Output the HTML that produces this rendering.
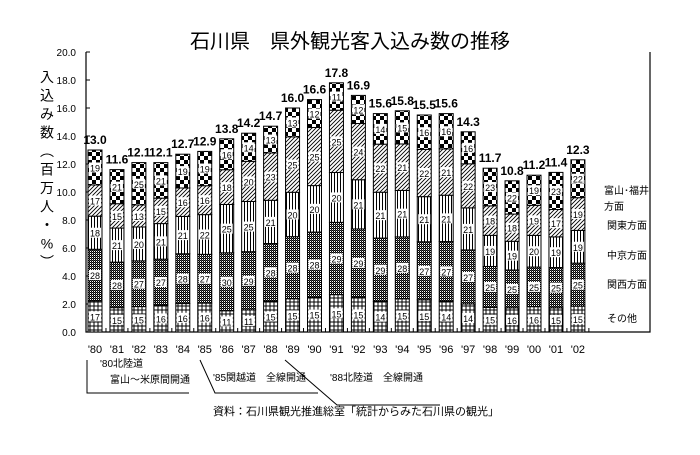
<!DOCTYPE html>
<html><head><meta charset="utf-8"><style>
body{margin:0;background:#fff}
svg text{font-family:"Liberation Sans","Noto Sans CJK JP",sans-serif}
</style></head><body>
<svg id="c" width="700" height="450" xmlns="http://www.w3.org/2000/svg">
<defs>
<pattern id="pGrid" width="4" height="4" patternUnits="userSpaceOnUse"><rect width="4" height="4" fill="#fff"/><path d="M2 0V4M0 2H4" stroke="#000" stroke-width="1"/></pattern>
<pattern id="pDots" width="2" height="2" patternUnits="userSpaceOnUse"><rect width="2" height="2" fill="#fff"/><rect width="1" height="1" fill="#000"/><rect x="1" y="1" width="1" height="1" fill="#000"/><rect x="1" width="1" height="1" fill="#444"/></pattern>
<pattern id="pVert" width="3" height="3" patternUnits="userSpaceOnUse"><rect width="3" height="3" fill="#fff"/><path d="M1.5 0V3" stroke="#000" stroke-width="1"/></pattern>
<pattern id="pDiag" width="4" height="4" patternUnits="userSpaceOnUse"><rect width="4" height="4" fill="#fff"/><path d="M0 4L4 0M-1 1L1 -1M3 5L5 3" stroke="#000" stroke-width="0.9"/></pattern>
<pattern id="pCheck" width="8" height="8" patternUnits="userSpaceOnUse"><rect width="8" height="8" fill="#fff"/><rect width="4" height="4" fill="#000"/><rect x="4" y="4" width="4" height="4" fill="#000"/></pattern>
</defs>
<text x="350" y="48" text-anchor="middle" font-size="20">石川県　県外観光客入込み数の推移</text>
<g id="plot"></g>
</svg>
<script>
const years=["'80","'81","'82","'83","'84","'85","'86","'87","'88","'89","'90","'91","'92","'93","'94","'95","'96","'97","'98","'99","'00","'01","'02"];
const totals=[13.0,11.6,12.1,12.1,12.7,12.9,13.8,14.2,14.7,16.0,16.6,17.8,16.9,15.6,15.8,15.5,15.6,14.3,11.7,10.8,11.2,11.4,12.3];
const other=[17,15,15,16,16,16,11,11,15,15,15,15,15,14,15,15,14,14,15,16,16,15,15];
const kansai=[28,28,27,27,28,27,30,29,28,28,28,29,29,29,28,27,27,27,25,25,25,25,25];
const chukyo=[18,21,20,21,21,22,25,25,21,20,20,20,21,21,21,21,21,21,19,19,20,19,19];
const kanto=[17,15,13,15,16,16,18,20,23,25,25,25,24,22,21,22,21,22,18,18,19,17,19];
const toyama=[19,21,25,21,19,19,16,14,13,13,12,11,12,14,15,16,16,16,23,22,19,23,22];
const yTicks=[0,2,4,6,8,10,12,14,16,18,20];
const seriesNames=["other","kansai","chukyo","kanto","toyama"];
const series=[other,kansai,chukyo,kanto,toyama];
const fills=["url(#pGrid)","url(#pDots)","url(#pVert)","url(#pDiag)","url(#pCheck)"];
const NS="http://www.w3.org/2000/svg";
const g=document.getElementById('plot');
const X0=86,X1=650,Y0=332,YT=52,step=21.95,bw=14,bx0=88;
const y=v=>Y0-(v/20)*(Y0-YT);
const xb=i=>bx0+i*step;
function el(t,a,txt){const e=document.createElementNS(NS,t);for(const k in a)e.setAttribute(k,a[k]);if(txt!==undefined)e.textContent=txt;g.appendChild(e);return e;}
// frame
let f=el('path',{d:`M${X0} ${YT}V${Y0}H${X1}V${YT}`,fill:'none',stroke:'#000','stroke-width':1.2});


yTicks.forEach(v=>{
 const t=el('text',{x:X0-10,y:y(v)+4,'text-anchor':'end','font-size':10},v.toFixed(1));
 
 
 el('line',{x1:X0,x2:X0+4,y1:y(v),y2:y(v),stroke:'#000'});
});
years.forEach((yr,i)=>{
 const cx=xb(i)+bw/2;
 el('line',{x1:cx+step/2,x2:cx+step/2,y1:Y0,y2:Y0-4,stroke:'#000'});
 const t=el('text',{x:cx,y:353,'text-anchor':'middle','font-size':11},yr);
 
 
 const sum=series.reduce((s,a)=>s+a[i],0);
 let acc=0;
 series.forEach((arr,k)=>{
  const v=totals[i]*arr[i]/sum;
  const top=y(acc+v),bot=y(acc);
  const r=el('rect',{x:xb(i),y:top,width:bw,height:bot-top,fill:fills[k],stroke:'#000','stroke-width':1});
  
  
  const my=(top+bot)/2;
  el('rect',{x:cx-6,y:my-5,width:12,height:10,fill:'#fff'});
  const lt=el('text',{x:cx,y:my+4,'text-anchor':'middle','font-size':9},String(arr[i]));
  
  
  acc+=v;
 });
 const tt=el('text',{x:cx,y:y(totals[i])-6,'text-anchor':'middle','font-size':12,'font-weight':'bold'},totals[i].toFixed(1));
 
 
});
// y title vertical
const ytitle=["入","込","み","数","︵","百","万","人","・","%","︶"];
ytitle.forEach((ch,k)=>{
 const t=el('text',{x:47,y:82+k*18.5,'text-anchor':'middle','font-size':14},ch);
 
 
});
// legend
[["富山･福井",194],["方面",210],["関東方面",229],["中京方面",259],["関西方面",288],["その他",322]].forEach(([s,yy],k)=>{
 const t=el('text',{x:k<2?604:607,y:yy,'font-size':10},s);
 
 
});
// annotations
el('path',{d:'M87 360V393H189',fill:'none',stroke:'#000'});
el('path',{d:'M200 360L215 393H318',fill:'none',stroke:'#000'});
el('path',{d:'M285 360L337 405H440',fill:'none',stroke:'#000'});
[["'80北陸道",100,367],["富山〜米原間開通",110,383],["'85関越道　全線開通",213,381],["'88北陸道　全線開通",330,381]].forEach(([s,xx,yy])=>{
 const t=el('text',{x:xx,y:yy,'font-size':10},s);
 
 
});
const src=el('text',{x:213,y:415,'font-size':11},'資料：石川県観光推進総室「統計からみた石川県の観光」');


</script>
</body></html>
